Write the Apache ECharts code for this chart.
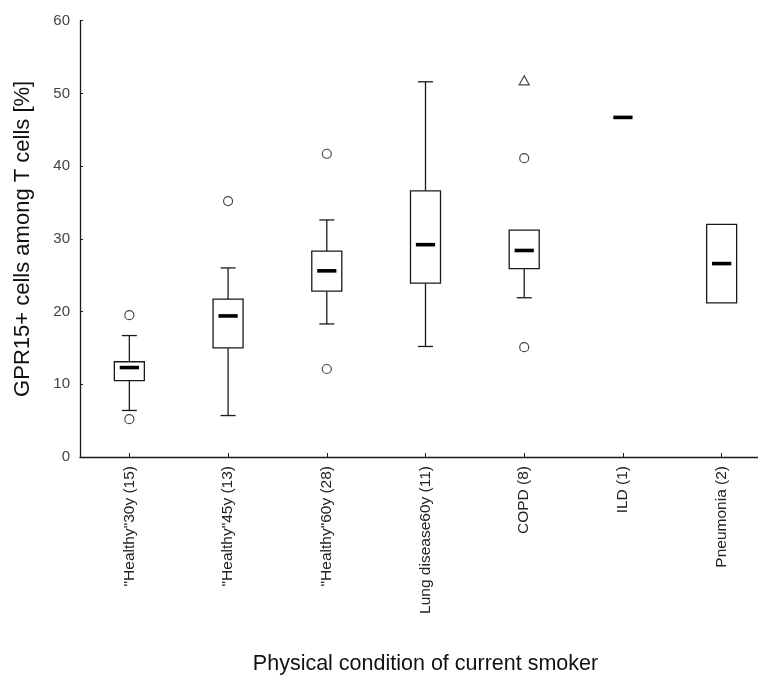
<!DOCTYPE html>
<html>
<head>
<meta charset="utf-8">
<script src="https://cdn.jsdelivr.net/npm/echarts@6/dist/echarts.min.js"></script>
<style>
html,body{margin:0;padding:0;background:#fff;}
#chart{width:758px;height:681px;}
</style>
</head>
<body>
<div id="chart"></div>
<script>
// ---- data ----
const categories = ['"Healthy"30y (15)', '"Healthy"45y (13)', '"Healthy"60y (28)', 'Lung disease60y (11)', 'COPD (8)', 'ILD (1)', 'Pneumonia (2)'];
const whiskerLow  = [6.4, 5.7, 18.3, 15.2, 21.9, null, null];
const q1          = [10.5, 15.0, 22.8, 23.9, 25.9, null, 21.2];
const median      = [12.3, 19.4, 25.6, 29.2, 28.4, 46.7, 26.6];
const q3          = [13.1, 21.7, 28.3, 36.6, 31.2, null, 32.0];
const whiskerHigh = [16.7, 26.0, 32.6, 51.6, null, null, null];
const outliers = [[0, 19.5], [0, 5.2], [1, 35.2], [2, 41.7], [2, 12.1], [4, 41.1], [4, 15.1]];
const extremes = [[4, 51.8]];
const yTicks = { min: 0, max: 60, interval: 10 };

const boxData = categories.map((c, i) => [i, whiskerLow[i], q1[i], median[i], q3[i], whiskerHigh[i]]);

const INK = '#1a1a1a';
const LW = 1.3;

function renderBox(params, api) {
  const i = api.value(0);
  const vals = [1, 2, 3, 4, 5].map(d => {
    const v = api.value(d);
    return (v === null || v === '' || v === '-' || !isFinite(Number(v))) ? null : Number(v);
  });
  const [lo, b1, med, b3, hi] = vals;
  const band = api.size([1, 0])[0];
  const cx = api.coord([i, 0])[0];
  const bw = band * 0.304, mw = band * 0.195, cw = band * 0.152;
  const Y = v => api.coord([i, v])[1];
  const children = [];
  const lineStyle = { stroke: INK, lineWidth: LW, fill: null };
  if (b1 !== null && b3 !== null) {
    if (lo !== null) {
      children.push({ type: 'line', shape: { x1: cx, y1: Y(b1), x2: cx, y2: Y(lo) }, style: lineStyle });
      children.push({ type: 'line', shape: { x1: cx - cw / 2, y1: Y(lo), x2: cx + cw / 2, y2: Y(lo) }, style: lineStyle });
    }
    if (hi !== null) {
      children.push({ type: 'line', shape: { x1: cx, y1: Y(b3), x2: cx, y2: Y(hi) }, style: lineStyle });
      children.push({ type: 'line', shape: { x1: cx - cw / 2, y1: Y(hi), x2: cx + cw / 2, y2: Y(hi) }, style: lineStyle });
    }
    children.push({ type: 'rect', shape: { x: cx - bw / 2, y: Y(b3), width: bw, height: Y(b1) - Y(b3) },
      style: { fill: '#fff', stroke: INK, lineWidth: LW } });
  }
  if (med !== null) {
    children.push({ type: 'rect', shape: { x: cx - mw / 2, y: Y(med) - 1.8, width: mw, height: 3.6 },
      style: { fill: '#000' } });
  }
  return { type: 'group', children };
}

const chart = echarts.init(document.getElementById('chart'), null, { renderer: 'canvas' });
chart.setOption({
  animation: false,
  backgroundColor: '#fff',
  grid: { left: 80, top: 20.7, bottom: 224, right: -13, containLabel: false, outerBoundsMode: 'none' },
  xAxis: {
    type: 'category',
    data: categories,
    boundaryGap: true,
    axisLine: { show: true, lineStyle: { color: INK, width: LW } },
    axisTick: { show: true, inside: true, length: 4, alignWithLabel: true, lineStyle: { color: INK, width: 1 } },
    axisLabel: { rotate: 90, fontSize: 15.5, color: '#222', fontFamily: 'Liberation Sans', margin: 9, interval: 0 },
    splitLine: { show: false },
    name: 'Physical condition of current smoker',
    nameLocation: 'middle',
    nameGap: 196,
    nameTextStyle: { fontSize: 21.5, color: '#111', fontFamily: 'Liberation Sans' }
  },
  yAxis: {
    type: 'value',
    min: yTicks.min, max: yTicks.max, interval: yTicks.interval,
    axisLine: { show: true, lineStyle: { color: INK, width: LW } },
    axisTick: { show: true, inside: true, length: 3, lineStyle: { color: INK, width: 1 } },
    axisLabel: { fontSize: 15, color: '#444', fontFamily: 'Liberation Sans', margin: 10 },
    splitLine: { show: false },
    name: 'GPR15+ cells among T cells [%]',
    nameLocation: 'middle',
    nameGap: 46,
    nameTextStyle: { fontSize: 22, color: '#111', fontFamily: 'Liberation Sans' }
  },
  series: [
    {
      type: 'custom',
      data: boxData,
      renderItem: renderBox,
      encode: { x: 0, y: [1, 2, 3, 4, 5] },
      z: 2
    },
    {
      type: 'scatter',
      data: outliers,
      symbol: 'circle',
      symbolSize: 9,
      itemStyle: { color: '#fff', borderColor: INK, borderWidth: 1.2 },
      z: 3
    },
    {
      type: 'scatter',
      data: extremes,
      symbol: 'triangle',
      symbolSize: [10, 9],
      itemStyle: { color: '#fff', borderColor: INK, borderWidth: 1.2 },
      z: 3
    }
  ]
});
</script>
</body>
</html>
